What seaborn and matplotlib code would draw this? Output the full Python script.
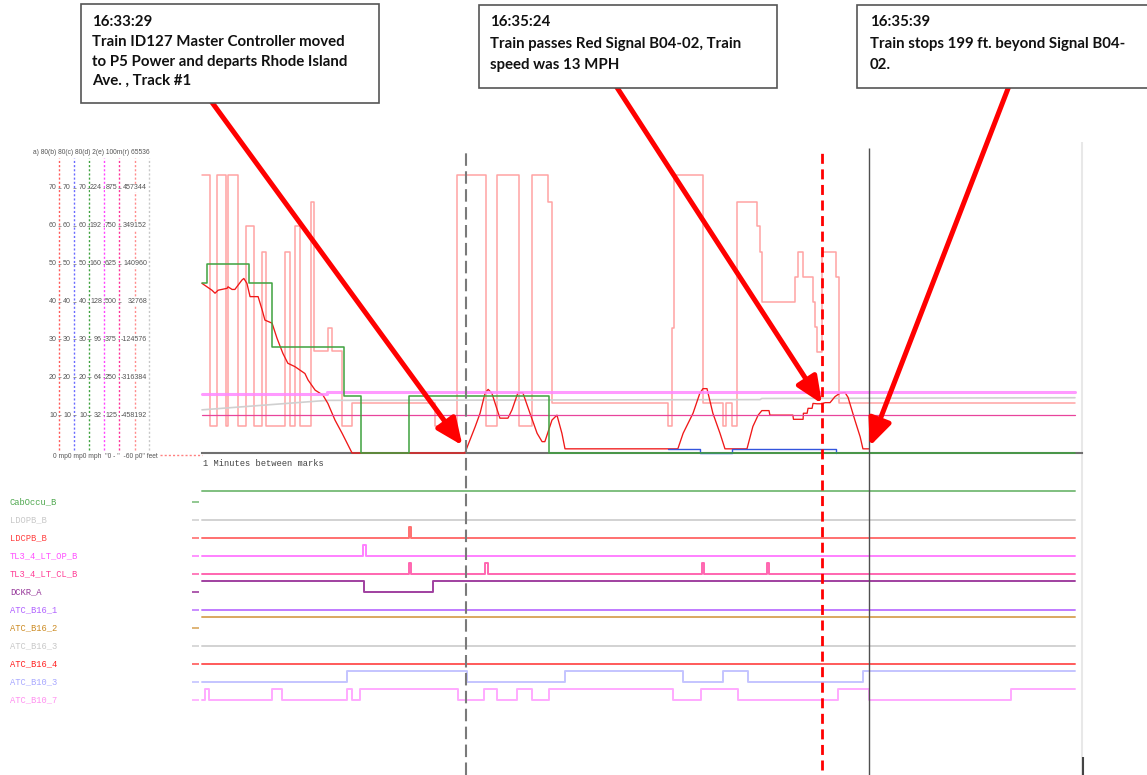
import matplotlib
matplotlib.use("Agg")
import matplotlib.pyplot as plt
from matplotlib.patches import Rectangle
import numpy as np
import seaborn as sns

sns.set_style("white")
plt.rcParams["font.family"] = ["Liberation Sans", "DejaVu Sans"]

# ---------------------------------------------------------------- data ----
# time is in seconds after 16:32:04
record_end = 281.6
minute_marks = [0.0, 61.6, 123.2, 184.8, 246.4]

# train speed (mph)
speed_t = [0.0, 1.6, 3.2, 4.2, 5.2, 8.1, 8.4, 9.7, 10.6, 12.9, 13.5, 14.5, 15.5,
           18.1, 19.4, 20.3, 22.6, 24.2, 26.1, 27.7, 30.0, 32.3, 33.2, 34.2,
           36.5, 39.0, 40.6, 42.9, 45.2, 46.8, 48.4, 84.8, 85.8, 88.1, 89.7,
           91.3, 92.3, 93.5, 96.1, 98.7, 100.0, 101.9, 103.5, 105.8, 108.1,
           109.7, 110.6, 112.9, 114.5, 116.1, 117.1, 153.5, 155.2, 158.4,
           160.6, 161.6, 162.9, 164.8, 167.1, 168.7, 175.8, 177.7, 179.4,
           180.6, 182.9, 183.2, 190.6, 190.8, 193.9, 194.0, 195.2, 195.5,
           196.8, 197.1, 198.4, 200.0, 201.0, 202.6, 204.2, 205.8, 207.4,
           208.4, 210.6, 212.3, 213.2, 215.2]
speed_mph = [44.8, 43.9, 43.0, 42.2, 43.0, 43.5, 43.9, 43.2, 43.2, 45.7, 46.1,
             44.8, 41.3, 41.3, 37.8, 35.1, 34.3, 30.3, 26.3, 23.7, 22.8, 21.5,
             21.0, 19.3, 16.6, 15.3, 13.1, 8.7, 5.2, 2.6, 0.0, 0.0, 2.1, 6.9,
             10.5, 15.8, 16.8, 15.8, 9.2, 9.2, 11.4, 15.9, 15.9, 10.5, 5.2,
             3.0, 3.0, 8.7, 10.0, 5.2, 1.1, 1.1, 5.2, 10.5, 15.8, 17.0, 17.0,
             10.5, 5.2, 1.1, 1.1, 7.0, 10.0, 11.2, 11.2, 10.0, 10.0, 8.9, 8.9,
             10.5, 10.5, 11.8, 11.8, 13.1, 13.0, 13.0, 13.3, 13.3, 14.9, 15.8,
             16.0, 14.7, 8.7, 4.3, 1.1, 1.1]

# propulsion / brake effort, drawn on the speed scale (step trace)
effort_t = [0.0, 2.6, 4.8, 7.7, 8.4, 11.6, 14.2, 16.8, 19.4, 20.6, 26.8, 28.4,
            30.0, 31.6, 35.2, 36.1, 40.6, 41.9, 45.2, 48.4, 75.2, 82.3, 91.6,
            95.2, 102.3, 106.5, 111.6, 112.9, 150.3, 151.6, 152.3, 161.6,
            168.1, 169.0, 171.0, 172.6, 179.0, 180.0, 180.6, 191.3, 192.3,
            193.9, 197.1, 197.7, 198.4, 200.0, 204.5, 205.5, 281.6]
effort_val = [73.5, 7, 73.5, 7, 73.5, 7, 60, 7, 53, 7, 53, 7, 60, 7, 66.4, 27,
              33, 27, 7, 13.2, 7, 73.5, 7, 73.5, 7, 73.5, 66.4, 13.2, 7, 33,
              73.5, 13.2, 7, 13.2, 7, 66.4, 60, 53, 40, 46.6, 53, 46.6, 40,
              33.4, 26.8, 53, 46.6, 13.2, 13.2]

# ATC speed command (mph)
atc_t = [0.0, 1.6, 15.2, 22.6, 45.8, 51.2, 66.9, 112.0, record_end]
atc_mph = [45, 50, 45, 28, 15, 0, 15, 0, 0]

# brake indication
brake_t = [150.3, 160.6, 171.0, 204.5]
brake_val = [1.1, 0, 1.1, 0]

# overspeed limit, grade trace and 10 mph reference
limit_t = [0.0, 40.3, record_end]
limit_mph = [15.5, 16.2, 16.2]
grade_t = [0.0, 40.3, 180.0, 180.6, record_end]
grade_val = [11.4, 13.9, 14.1, 14.4, 14.6]
ref_t = [0.0, record_end]
ref_mph = [10, 10]

# events
event_t = [85.0, 200.0, 215.0]
event_mph = [2.0, 13.0, 1.8]
event_time = ["16:33:29", "16:35:24", "16:35:39"]
event_lines = [
    ["Train ID127 Master Controller moved",
     "to P5 Power and departs Rhode Island",
     "Ave. , Track #1"],
    ["Train passes Red Signal B04-02, Train",
     "speed was 13 MPH"],
    ["Train stops 199 ft. beyond Signal B04-",
     "02."],
]

# digital inputs
signal_names = ["CabOccu_B", "LDOPB_B", "LDCPB_B", "TL3_4_LT_OP_B",
                "TL3_4_LT_CL_B", "DCKR_A", "ATC_B16_1", "ATC_B16_2",
                "ATC_B16_3", "ATC_B16_4", "ATC_B10_3", "ATC_B10_7"]
signal_initial = [1, 0, 0, 0, 0, 1, 0, 1, 0, 0, 0, 0]
signal_toggles = [
    [],
    [],
    [66.8, 67.3],
    [52.0, 52.9],
    [66.8, 67.3, 91.3, 92.3, 161.3, 161.9, 182.3, 182.9],
    [52.3, 74.5],
    [],
    [],
    [],
    [],
    [46.8, 85.5, 117.1, 155.2, 168.1, 176.1, 213.2],
    [1.0, 2.3, 22.6, 25.8, 46.8, 48.4, 51.0, 82.6, 91.0, 95.2, 101.6, 106.5,
     111.9, 151.9, 161.0, 172.9, 205.2, 215.2, 261.0],
]

# scale columns at the left of the speed plot
scale_ticks = [70, 60, 50, 40, 30, 20, 10]
scale_cols = [
    ["70", "60", "50", "40", "30", "20", "10"],
    ["70", "60", "50", "40", "30", "20", "10"],
    ["70", "60", "50", "40", "30", "20", "10"],
    ["224", "192", "160", "128", "96", "64", "32"],
    ["875", "750", "625", "500", "375", "250", "125"],
    ["457344", "349152", "140960", "32768", "-124576", "-316384", "-458192"],
]
scale_header = "a) 80(b) 80(c) 80(d) 2(e) 100m(r) 65536"
scale_footer = '0 mp0 mp0 mph  "0 - "  -60 p0" feet'

# ------------------------------------------------------------- layout ----
W, H, DPI = 1147, 775, 100
PX_PER_S, X0 = 3.1, 202          # horizontal time scale
PX_PER_MPH, Y0 = 3.786, 453      # vertical speed scale
ROW0, ROW_STEP, HIGH = 502, 18, 0.6


def tx(px):
    return (px - X0) / PX_PER_S


def my(py):
    return (Y0 - py) / PX_PER_MPH


def ry(py):
    return (ROW0 - py) / ROW_STEP


fig = plt.figure(figsize=(W / DPI, H / DPI), dpi=DPI)
ax = fig.add_axes([0, 0, 1, 1])
ax_sig = fig.add_axes([0, 0, 1, 1], sharex=ax)
for a in (ax, ax_sig):
    a.patch.set_alpha(0)
ax_sig.set_zorder(ax.get_zorder() - 1)


def trace(axis, t, v, color, lw, step=False, z=2, alpha=1.0):
    sns.lineplot(x=t, y=v, ax=axis, color=color, linewidth=lw,
                 estimator=None, sort=False, legend=False, alpha=alpha,
                 drawstyle="steps-post" if step else "default", zorder=z)


# speed plot
trace(ax, effort_t, effort_val, "#ffa3a3", 1.1, step=True, z=2)
trace(ax, grade_t, grade_val, "#d0d0d0", 1.2, z=2.1)
trace(ax, speed_t, speed_mph, "#f01818", 0.95, z=2.15)
trace(ax, ref_t, ref_mph, "#e8449c", 0.9, z=2.2)
trace(ax, limit_t, limit_mph, "#ff88ff", 2.2, step=True, z=2.3, alpha=0.85)
trace(ax, brake_t, brake_val, "#3355dd", 1.0, step=True, z=2.4)
trace(ax, atc_t, atc_mph, "#3fa23f", 1.1, step=True, z=2.7)

# digital signals
sig_colors = ["#7fbf7f", "#d2d2d2", "#ff7070", "#ff80ff", "#ff66b0",
              "#a040a0", "#c07aff", "#d9a860", "#d2d2d2", "#ff5a5a",
              "#c4c4ff", "#ffaaff"]
label_colors = ["#4fa84f", "#c8c8c8", "#ff4040", "#ff50ff", "#ff3d96",
                "#96389a", "#b060ff", "#cc8a22", "#c8c8c8", "#ff2020",
                "#a8a8ff", "#ff90f0"]
for i, name in enumerate(signal_names):
    times = [0.0] + signal_toggles[i] + [record_end]
    state = signal_initial[i]
    levels = []
    for _ in range(len(times) - 1):
        levels.append(state)
        state = 1 - state
    levels.append(levels[-1])
    y = [-i + HIGH * s for s in levels]
    trace(ax_sig, times, y, sig_colors[i], 1.4, step=True)
    ax_sig.hlines(-i, tx(192), tx(199), colors=sig_colors[i], lw=1.2)
    ax_sig.text(tx(10), -i, name, ha="left", va="center",
                family="Liberation Mono", fontsize=6.3, color=label_colors[i])

ax_sig.text(tx(203), ry(463), "1 Minutes between marks", ha="left",
            va="center", family="Liberation Mono", fontsize=6.3,
            color="#444444")

# left scale columns
line_px = [59, 74, 89, 104, 119, 135, 149]
line_cols = ["#ff5a5a", "#6a6aff", "#3fa23f", "#ff44ff", "#ff3399",
             "#ff8c8c", "#c8c8c8"]
label_px = [57, 71, 87, 102, 117, 147]
for px, c in zip(line_px, line_cols):
    ax.vlines(tx(px), my(450), my(158), colors=c, lw=1.0,
              linestyles=(0, (1.5, 1.5)))
for col, px in zip(scale_cols, label_px):
    for v, lab in zip(scale_ticks, col):
        ax.text(tx(px), v, lab, ha="right", va="center", fontsize=5.1,
                color="#555555",
                bbox=dict(facecolor="white", edgecolor="none", pad=0.2))
for px in line_px[:6]:
    for v in scale_ticks:
        ax.hlines(v, tx(px - 1.5), tx(px + 2), colors="#888888", lw=0.6)
ax.text(tx(150), my(152), scale_header, ha="right", va="center",
        fontsize=4.8, color="#555555")
ax.text(tx(158), my(456), scale_footer, ha="right", va="center",
        fontsize=4.8, color="#555555")
ax.hlines(my(455), tx(160), tx(202), colors="#ff8080", lw=1.0,
          linestyles=(0, (1.5, 1.5)))

# time axis
for s in ("top", "left", "right"):
    ax.spines[s].set_visible(False)
ax.spines["bottom"].set_position(("data", 0))
ax.spines["bottom"].set_bounds(0, tx(1082))
ax.spines["bottom"].set_color("#707070")
ax.spines["bottom"].set_linewidth(1.5)
ax.spines["bottom"].set_zorder(1.5)
ax.set_xticks(minute_marks)
ax.tick_params(axis="x", direction="inout", length=7, width=1.1,
               colors="#555555", labelbottom=False)
ax.tick_params(axis="y", left=False, labelleft=False)
ax.set_xlabel("")
ax.set_ylabel("")
ax_sig.axis("off")

# frame at the right edge
ax.vlines(tx(1082), my(775), my(142), colors="#e8e8e8", lw=1.5, zorder=1)
ax.vlines(tx(1083), my(775), my(757), colors="#444444", lw=1.5, zorder=1)

# event cursors
ax.vlines(event_t[0], my(775), my(148), colors="#7a7a7a", lw=1.5,
          linestyles=(0, (6, 2.6)), zorder=3)
ax.vlines(event_t[1], my(770), my(148), colors="#ff0000", lw=2.0,
          linestyles=(0, (3.6, 2.0)), zorder=3)
ax.vlines(event_t[2], my(775), my(148), colors="#505050", lw=1.0, zorder=3)

ax.set_xlim(tx(0), tx(W))
ax.set_ylim(my(H), my(0))
ax_sig.set_ylim(ry(H), ry(0))

# annotation boxes
boxes = [(81, 4, 298, 99), (479, 5, 298, 83), (857, 5, 300, 83)]
text_x = [92, 490, 870]
line_y = [[22, 42, 62, 81], [22, 44, 65], [22, 44, 65]]
arrow_from = [(211, 101), (616, 86), (1009, 86)]
tip_shift = [-1.0, 0.0, 0.4]
for k in range(3):
    x, y, w, h = boxes[k]
    fig.patches.append(Rectangle((x / W, 1 - (y + h) / H), w / W, h / H,
                                 transform=fig.transFigure, facecolor="white",
                                 edgecolor="#555555", lw=1.2, zorder=5))
    rows = [event_time[k]] + event_lines[k]
    for r, ypx in zip(rows, line_y[k]):
        fig.text(text_x[k] / W, 1 - ypx / H, r, ha="left", va="center",
                 family=["Lato", "DejaVu Sans"], fontweight="bold",
                 fontsize=10.85, color="#111111", zorder=6)
    ax.annotate("", xy=(event_t[k] + tip_shift[k], event_mph[k]),
                xytext=(arrow_from[k][0], H - arrow_from[k][1]),
                textcoords="figure pixels",
                arrowprops=dict(arrowstyle="-|>,head_length=0.8,head_width=0.35",
                                color="#ff0000", lw=3.6, shrinkA=0, shrinkB=0,
                                mutation_scale=20),
                zorder=7, annotation_clip=False)

fig.savefig("out.png", dpi=DPI)
